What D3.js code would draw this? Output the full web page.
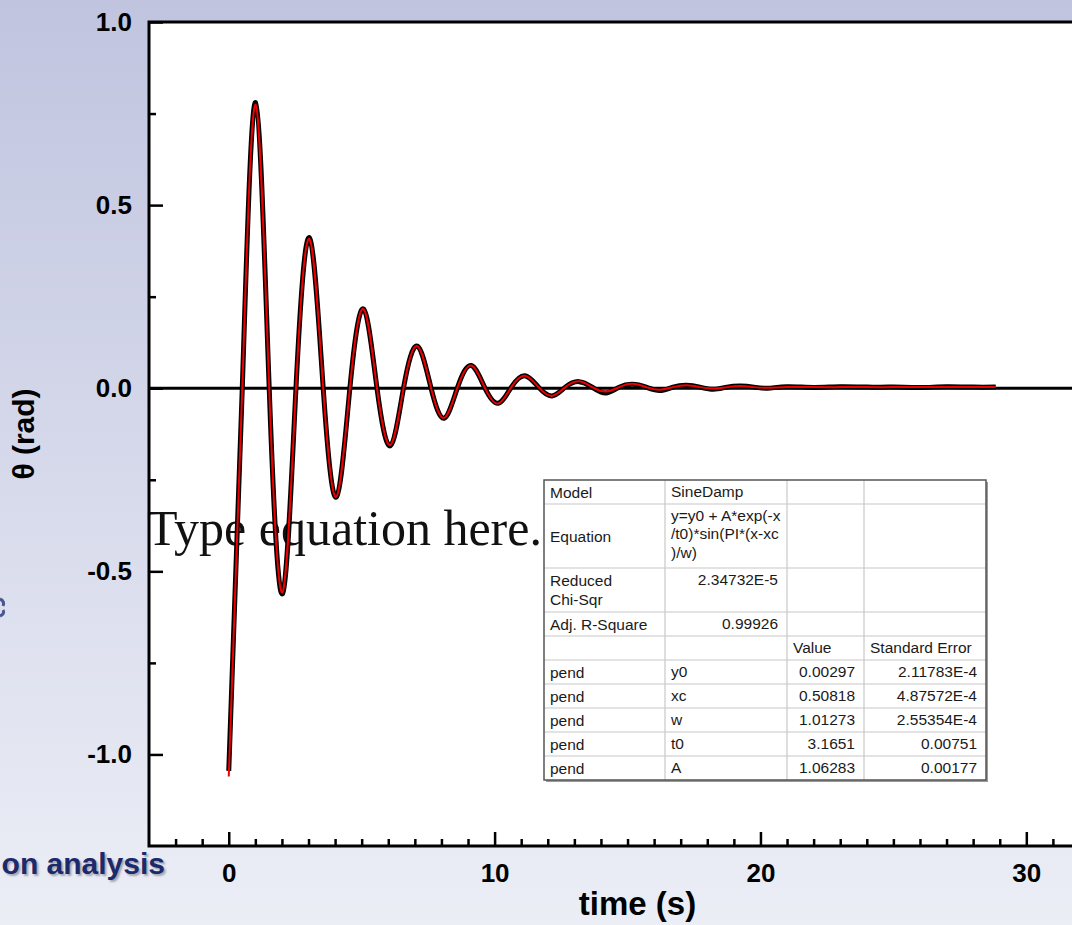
<!DOCTYPE html>
<html>
<head>
<meta charset="utf-8">
<script src="https://cdn.jsdelivr.net/npm/d3@7"></script>
<style>
  body { margin: 0; overflow: hidden; }
  svg { display: block; }
</style>
</head>
<body>
<div class="pendulum-container"></div>
<script>
// pendulum angle at extrema / zero crossings, then the flat tail
const timeS = [
  0.00, 0.51, 1.01, 1.52, 2.03, 2.53, 3.04, 3.55, 4.05, 4.56,
  5.07, 5.57, 6.08, 6.58, 7.09, 7.60, 8.10, 8.61, 9.12, 9.62,
  10.13, 10.63, 11.14, 11.65, 12.16, 12.66, 13.17, 13.67, 14.18, 14.69,
  15.19, 15.70, 16.21, 16.71, 17.22, 17.72, 18.23, 18.74, 19.25, 19.75,
  20.26, 21.0, 22.0, 23.0, 24.0, 25.0, 26.0, 27.0, 28.0, 28.85
];
const thetaData = [
  -1.045, 0.003, 0.780, 0.003, -0.560, 0.003, 0.410, 0.003, -0.297, 0.003,
  0.216, 0.003, -0.157, 0.003, 0.115, 0.003, -0.082, 0.003, 0.062, 0.003,
  -0.041, 0.003, 0.034, 0.003, -0.021, 0.003, 0.018, 0.003, -0.013, 0.003,
  0.011, 0.003, -0.006, 0.003, 0.008, 0.003, -0.003, 0.003, 0.006, 0.003,
  0.000, 0.004, 0.002, 0.004, 0.003, 0.003, 0.002, 0.004, 0.003, 0.003
];
// SineDamp fit (red)
const thetaFit = [
  -1.060, 0.003, 0.774, 0.003, -0.556, 0.003, 0.407, 0.003, -0.296, 0.003,
  0.216, 0.003, -0.155, 0.003, 0.115, 0.003, -0.081, 0.003, 0.062, 0.003,
  -0.042, 0.003, 0.034, 0.003, -0.021, 0.003, 0.019, 0.003, -0.009, 0.003,
  0.012, 0.003, -0.004, 0.003, 0.008, 0.003, -0.001, 0.003, 0.006, 0.003,
  0.001, 0.003, 0.003, 0.003, 0.003, 0.003, 0.003, 0.003, 0.003, 0.003
];

const xTicks = [0, 10, 20, 30];
const yTicks = [-1.0, -0.5, 0.0, 0.5, 1.0];

// fit report table (Origin style)
const tableRows = [
  ["Model", "SineDamp", "", ""],
  ["Equation", "y=y0 + A*exp(-x\n/t0)*sin(PI*(x-xc\n)/w)", "", ""],
  ["Reduced\nChi-Sqr", "2.34732E-5", "", ""],
  ["Adj. R-Square", "0.99926", "", ""],
  ["", "", "Value", "Standard Error"],
  ["pend", "y0", "0.00297", "2.11783E-4"],
  ["pend", "xc", "0.50818", "4.87572E-4"],
  ["pend", "w", "1.01273", "2.55354E-4"],
  ["pend", "t0", "3.1651", "0.00751"],
  ["pend", "A", "1.06283", "0.00177"],
];

const W = 1072, H = 925;
const plot = { left: 149, top: 22, right: 1126, bottom: 846 };
const FONT = "'Liberation Sans', Arial, sans-serif";

const svg = d3.select(".pendulum-container")
  .append("svg")
  .attr("width", W)
  .attr("height", H);

// slide background
const grad = svg.append("defs").append("linearGradient")
  .attr("id", "bg").attr("x1", 0).attr("y1", 0).attr("x2", 0).attr("y2", 1);
grad.append("stop").attr("offset", "0%").attr("stop-color", "#c0c4df");
grad.append("stop").attr("offset", "100%").attr("stop-color", "#eceef6");
svg.append("rect").attr("width", W).attr("height", H).attr("fill", "url(#bg)");

// slide text peeking out from behind the chart
svg.append("text")
  .attr("x", 165).attr("y", 874)
  .attr("text-anchor", "end")
  .attr("font-family", FONT).attr("font-weight", "bold").attr("font-size", 30)
  .attr("fill", "#1b2a6a")
  .style("text-shadow", "2px 2px 2px rgba(80,80,100,0.45)")
  .text("on analysis");
// sliver of a hidden glyph at the left edge
svg.append("path")
  .attr("d", "M0,599 Q5,601 3,606 M3,610 Q5,614 0,616")
  .attr("fill", "none")
  .attr("stroke", "#4a5890")
  .attr("stroke-width", 3);

// plot area
svg.append("rect")
  .attr("x", plot.left).attr("y", plot.top)
  .attr("width", plot.right - plot.left).attr("height", plot.bottom - plot.top)
  .attr("fill", "#fff");

var x = d3.scaleLinear().domain([-3, 33.75]).range([plot.left, plot.right]);
var y = d3.scaleLinear().domain([-1.25, 1.0]).range([plot.bottom, plot.top]);

// Type equation here. (stray equation placeholder)
svg.append("text")
  .attr("x", 147).attr("y", 545)
  .attr("font-family", "'Liberation Serif', 'DejaVu Serif', serif")
  .attr("font-size", 50)
  .attr("fill", "#111")
  .text("Type equation here.");

// zero line
svg.append("line")
  .attr("x1", plot.left).attr("x2", plot.right)
  .attr("y1", y(0)).attr("y2", y(0))
  .attr("stroke", "#000").attr("stroke-width", 3);

// curves
const pts = timeS.map((t, i) => ({ t, data: thetaData[i], fit: thetaFit[i] }));
const dataLine = d3.line().x(d => x(d.t)).y(d => y(d.data)).curve(d3.curveNatural);
const fitLine = d3.line().x(d => x(d.t)).y(d => y(d.fit)).curve(d3.curveNatural);

svg.append("path")
  .datum(pts)
  .attr("d", dataLine)
  .attr("fill", "none")
  .attr("stroke", "#000")
  .attr("stroke-width", 5)
  .attr("stroke-linejoin", "round");
svg.append("path")
  .datum(pts)
  .attr("d", fitLine)
  .attr("fill", "none")
  .attr("stroke", "#ee0000")
  .attr("stroke-width", 2)
  .attr("stroke-linejoin", "round");

// axes (ticks point inward)
const tickStyle = g => {
  g.select(".domain").remove();
  g.selectAll(".tick line").attr("stroke", "#000").attr("stroke-width", 2.5);
  g.selectAll(".tick text")
    .attr("fill", "#000")
    .attr("font-family", FONT)
    .attr("font-weight", "bold")
    .attr("font-size", 26);
};

svg.append("g")
  .attr("transform", "translate(" + plot.left + ",0)")
  .call(d3.axisLeft(y).tickValues(yTicks).tickSize(-14).tickPadding(17)
    .tickFormat(d => d.toFixed(1)))
  .call(tickStyle);
svg.append("g")
  .attr("transform", "translate(" + plot.left + ",0)")
  .call(d3.axisLeft(y).tickValues([-0.75, -0.25, 0.25, 0.75]).tickSize(-7).tickFormat(""))
  .call(tickStyle);

svg.append("g")
  .attr("transform", "translate(0," + plot.bottom + ")")
  .call(d3.axisBottom(x).tickValues(xTicks).tickSize(-14).tickPadding(18)
    .tickFormat(d3.format("d")))
  .call(tickStyle);
svg.append("g")
  .attr("transform", "translate(0," + plot.bottom + ")")
  .call(d3.axisBottom(x).tickValues(d3.range(-2, 34).filter(v => v % 10 !== 0))
    .tickSize(-7).tickFormat(""))
  .call(tickStyle);

// frame: left, top, bottom
svg.append("path")
  .attr("d", "M" + plot.right + "," + plot.top + "H" + plot.left + "V" + plot.bottom + "H" + plot.right)
  .attr("fill", "none")
  .attr("stroke", "#000")
  .attr("stroke-width", 3);

// axis titles
svg.append("text")
  .attr("x", (plot.left + plot.right) / 2).attr("y", 915)
  .attr("text-anchor", "middle")
  .attr("font-family", FONT).attr("font-weight", "bold").attr("font-size", 33)
  .text("time (s)");
svg.append("text")
  .attr("transform", "translate(34," + (plot.top + plot.bottom) / 2 + ") rotate(-90)")
  .attr("text-anchor", "middle")
  .attr("font-family", FONT).attr("font-weight", "bold").attr("font-size", 30)
  .text("θ (rad)");

// fit table
const tbl = { x: 544, y: 480 };
const colW = [121, 122, 77, 122];
const colX = [0];
colW.forEach((w, i) => colX.push(colX[i] + w));
const lineH = 18.5;
const rowH = tableRows.map(r => 4 + 20 * d3.max(r, c => c.split("\n").length));
const rowY = [0];
rowH.forEach((h, i) => rowY.push(rowY[i] + h));
const tw = colX[colX.length - 1], th = rowY[rowY.length - 1];

const gT = svg.append("g").attr("transform", "translate(" + tbl.x + "," + tbl.y + ")");
gT.append("rect").attr("x", 2).attr("y", 2).attr("width", tw).attr("height", th)
  .attr("fill", "#9a9a9a");
gT.append("rect").attr("width", tw).attr("height", th).attr("fill", "#fff");

rowY.slice(1, -1).forEach(yy => {
  gT.append("line").attr("x1", 0).attr("x2", tw).attr("y1", yy).attr("y2", yy)
    .attr("stroke", "#c8c8c8").attr("stroke-width", 1.2);
});
colX.slice(1, -1).forEach(xx => {
  gT.append("line").attr("x1", xx).attr("x2", xx).attr("y1", 0).attr("y2", th)
    .attr("stroke", "#c8c8c8").attr("stroke-width", 1.2);
});
gT.append("rect").attr("width", tw).attr("height", th)
  .attr("fill", "none").attr("stroke", "#555").attr("stroke-width", 1.5);

tableRows.forEach((row, ri) => {
  row.forEach((cell, ci) => {
    if (!cell) return;
    const lines = cell.split("\n");
    const numeric = !isNaN(+cell);
    const firstY = ci === 0
      ? rowY[ri] + rowH[ri] / 2 - (lines.length - 1) * lineH / 2
      : rowY[ri] + 11;
    const t = gT.append("text")
      .attr("font-family", FONT)
      .attr("font-size", 15.5)
      .attr("fill", "#1a1a1a")
      .attr("text-anchor", numeric ? "end" : "start");
    lines.forEach((ln, li) => {
      t.append("tspan")
        .attr("x", numeric ? colX[ci + 1] - 9 : colX[ci] + 6)
        .attr("y", firstY + li * lineH)
        .attr("dy", "0.36em")
        .text(ln);
    });
  });
});
</script>
</body>
</html>
